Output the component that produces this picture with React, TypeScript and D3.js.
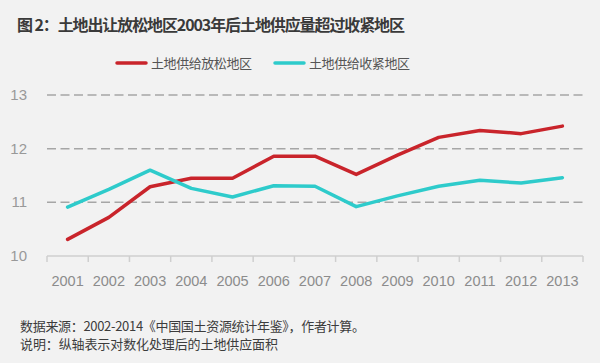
import React from 'react';
import * as d3 from 'd3';

const years = ['2001', '2002', '2003', '2004', '2005', '2006', '2007', '2008', '2009', '2010', '2011', '2012', '2013'];
const looseSupply = [10.31, 10.72, 11.29, 11.45, 11.45, 11.86, 11.86, 11.52, 11.88, 12.21, 12.34, 12.28, 12.42];
const tightSupply = [10.91, 11.24, 11.6, 11.26, 11.1, 11.31, 11.3, 10.92, 11.12, 11.3, 11.41, 11.36, 11.46];
const yTicks = [10, 11, 12, 13];
const seriesNames = ['土地供给放松地区', '土地供给收紧地区'];

const width = 600;
const height = 363;
const margin = {top: 95, right: 17, bottom: 107, left: 47};
const colors = ['#c9242b', '#2ecbcb'];
const sans = '"Liberation Sans", "Noto Sans", sans-serif';
const cjk = '"Noto Sans CJK SC", sans-serif';

export default function App() {
  const x = d3.scaleBand()
    .domain(years)
    .range([margin.left, width - margin.right]);

  const y = d3.scaleLinear()
    .domain([10, 13])
    .range([height - margin.bottom, margin.top]);

  const line = d3.line<number>()
    .x((d, i) => (x(years[i]) as number) + x.bandwidth() / 2)
    .y(d => y(d));

  const series = [looseSupply, tightSupply];
  const legendX = [117, 275];

  return (
    <div style={{position: 'fixed', left: 0, top: 0}}>
      <svg width={width} height={height} style={{display: 'block'}}>
        <rect width={width} height={height} fill="#f2f2f2" />

        <text x={17} y={31} fontFamily={cjk} fontSize={16} fontWeight="bold" fill="#3a3a3a"
          textLength={388} lengthAdjust="spacing">
          图 2：土地出让放松地区2003年后土地供应量超过收紧地区
        </text>

        {seriesNames.map((name, i) => (
          <g key={name}>
            <line x1={legendX[i]} x2={legendX[i] + 29} y1={63} y2={63}
              stroke={colors[i]} strokeWidth={3.5} strokeLinecap="round" />
            <text x={legendX[i] + 34} y={68} fontFamily={cjk} fontSize={13} fill="#555"
              textLength={101} lengthAdjust="spacing">{name}</text>
          </g>
        ))}

        {yTicks.filter(t => t > 10).map(t => (
          <line key={t} x1={margin.left} x2={width - margin.right} y1={y(t)} y2={y(t)}
            stroke="#a6a6a6" strokeWidth={1.5} strokeDasharray="9,4.5" />
        ))}

        {yTicks.map(t => (
          <text key={t} x={27} y={y(t) + 5} textAnchor="end" fontFamily={sans} fontSize={15} fill="#999">{t}</text>
        ))}

        <line x1={margin.left} x2={width - margin.right} y1={y(10)} y2={y(10)} stroke="#cfcfcf" strokeWidth={1.5} />
        {years.map(yr => (
          <line key={'t' + yr} x1={x(yr) as number} x2={x(yr) as number} y1={y(10)} y2={y(10) + 6}
            stroke="#cfcfcf" strokeWidth={1.5} />
        ))}
        <line x1={width - margin.right} x2={width - margin.right} y1={y(10)} y2={y(10) + 6}
          stroke="#cfcfcf" strokeWidth={1.5} />

        {years.map(yr => (
          <text key={yr} x={(x(yr) as number) + x.bandwidth() / 2} y={286} textAnchor="middle"
            fontFamily={sans} fontSize={14.5} fill="#8c8c8c">{yr}</text>
        ))}

        {series.map((s, i) => (
          <path key={i} d={line(s) as string} fill="none" stroke={colors[i]} strokeWidth={3.5}
            strokeLinejoin="round" strokeLinecap="round" />
        ))}

        <text x={20} y={331} fontFamily={cjk} fontSize={13} fill="#3c3c3c"
          textLength={345} lengthAdjust="spacing">
          数据来源：2002-2014《中国国土资源统计年鉴》，作者计算。
        </text>
        <text x={20} y={349} fontFamily={cjk} fontSize={13} fill="#3c3c3c"
          textLength={258} lengthAdjust="spacing">
          说明：纵轴表示对数化处理后的土地供应面积
        </text>
      </svg>
    </div>
  );
}
